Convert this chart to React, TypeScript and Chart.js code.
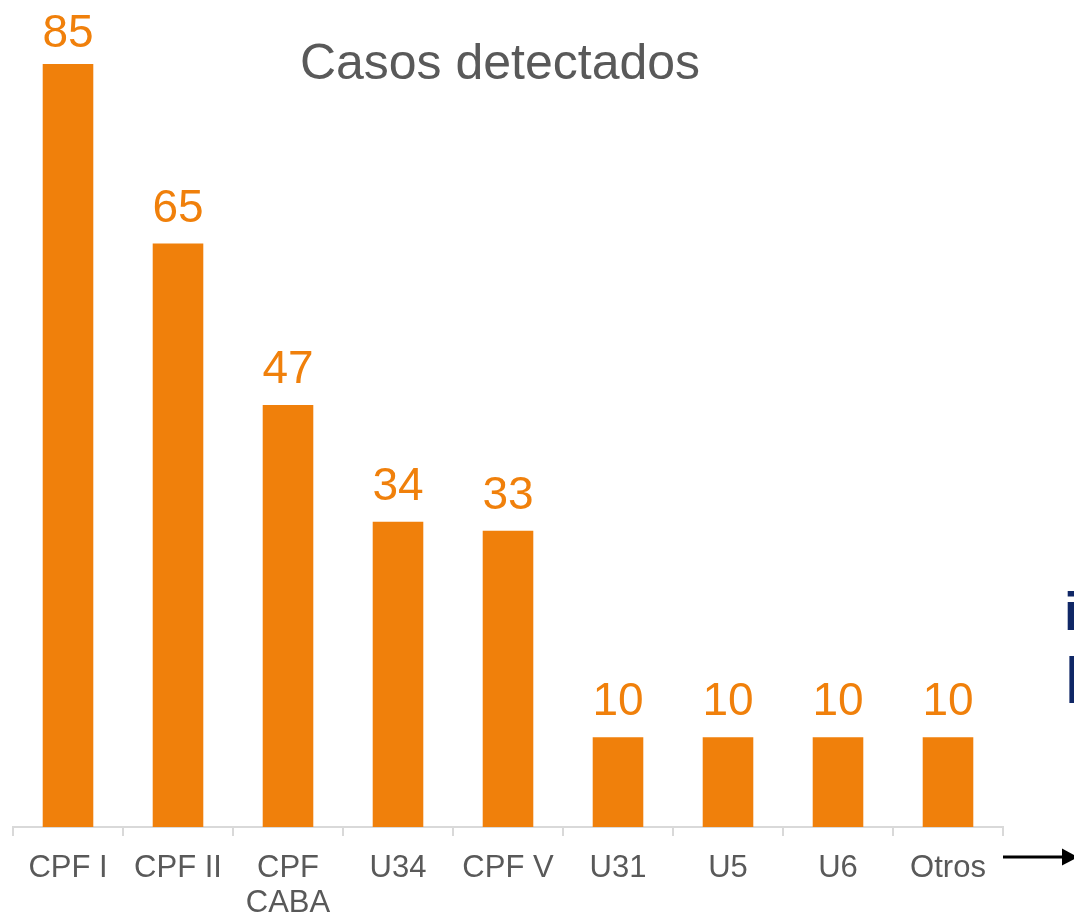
import React, { useEffect, useRef } from "react";
import { Chart, registerables } from "chart.js";

Chart.register(...registerables);

const categories: (string | string[])[] = ["CPF I", "CPF II", ["CPF", "CABA"], "U34", "CPF V", "U31", "U5", "U6", "Otros"];
const casos: number[] = [85, 65, 47, 34, 33, 10, 10, 10, 10];
const title = "Casos detectados";
const sideTexts: string[] = ["i", "l"];

const ORANGE = "#F0800B";
const GRAY = "#595959";
const NAVY = "#102766";
const FONT = "'Liberation Sans', Arial, sans-serif";

const overlayPlugin = {
  id: "overlay",
  afterDatasetsDraw(chart: any) {
    const { ctx, chartArea } = chart;
    const meta = chart.getDatasetMeta(0);
    ctx.save();
    // data labels
    ctx.fillStyle = ORANGE;
    ctx.font = `46px ${FONT}`;
    ctx.textAlign = "center";
    ctx.textBaseline = "alphabetic";
    meta.data.forEach((bar: any, i: number) => {
      const y = Math.max(bar.y - 22, 47);
      ctx.fillText(String(casos[i]), bar.x, y);
    });
    // title
    ctx.fillStyle = GRAY;
    ctx.font = `50px ${FONT}`;
    ctx.fillText(title, 500, 79);
    // arrow
    const ay = chartArea.bottom + 30;
    ctx.strokeStyle = "#000";
    ctx.fillStyle = "#000";
    ctx.lineWidth = 3;
    ctx.beginPath();
    ctx.moveTo(chartArea.right + 0, ay);
    ctx.lineTo(1064, ay);
    ctx.stroke();
    ctx.beginPath();
    ctx.moveTo(1078, ay);
    ctx.lineTo(1062, ay - 8.5);
    ctx.lineTo(1062, ay + 8.5);
    ctx.closePath();
    ctx.fill();
    // cropped side text
    ctx.fillStyle = NAVY;
    ctx.textAlign = "left";
    ctx.font = `bold 53px ${FONT}`;
    ctx.fillText(sideTexts[0], 1064, 630);
    ctx.font = `65px ${FONT}`;
    ctx.fillText(sideTexts[1], 1065, 703);
    ctx.restore();
  },
};

export default function App() {
  const ref = useRef<HTMLCanvasElement>(null);
  useEffect(() => {
    if (!ref.current) return;
    const chart = new Chart(ref.current, {
      type: "bar",
      data: {
        labels: categories as any,
        datasets: [
          {
            data: casos,
            backgroundColor: ORANGE,
            barPercentage: 0.92,
            categoryPercentage: 0.5,
          },
        ],
      },
      options: {
        animation: false,
        responsive: false,
        maintainAspectRatio: false,
        layout: { padding: { left: 13, right: 71, top: 64, bottom: 0 } },
        plugins: {
          legend: { display: false },
          tooltip: { enabled: false },
          title: { display: false },
        },
        scales: {
          x: {
            grid: {
              display: true,
              drawOnChartArea: false,
              drawTicks: true,
              tickLength: 9,
              color: "#D9D9D9",
              lineWidth: 2,
              offset: true,
            },
            border: { display: true, color: "#D9D9D9", width: 2 },
            ticks: {
              color: GRAY,
              font: { family: FONT, size: 31, lineHeight: 1.16 },
              padding: 14,
              maxRotation: 0,
              autoSkip: false,
            },
            afterFit: (scale: any) => {
              scale.height = 87;
            },
          },
          y: {
            display: false,
            min: 0,
            max: 85,
          },
        },
      },
      plugins: [overlayPlugin],
    });
    return () => chart.destroy();
  }, []);
  return (
    <div style={{ position: "fixed", left: 0, top: 0, width: 1074, height: 914, background: "#fff" }}>
      <canvas ref={ref} width={1074} height={914} style={{ display: "block", width: 1074, height: 914 }} />
    </div>
  );
}
